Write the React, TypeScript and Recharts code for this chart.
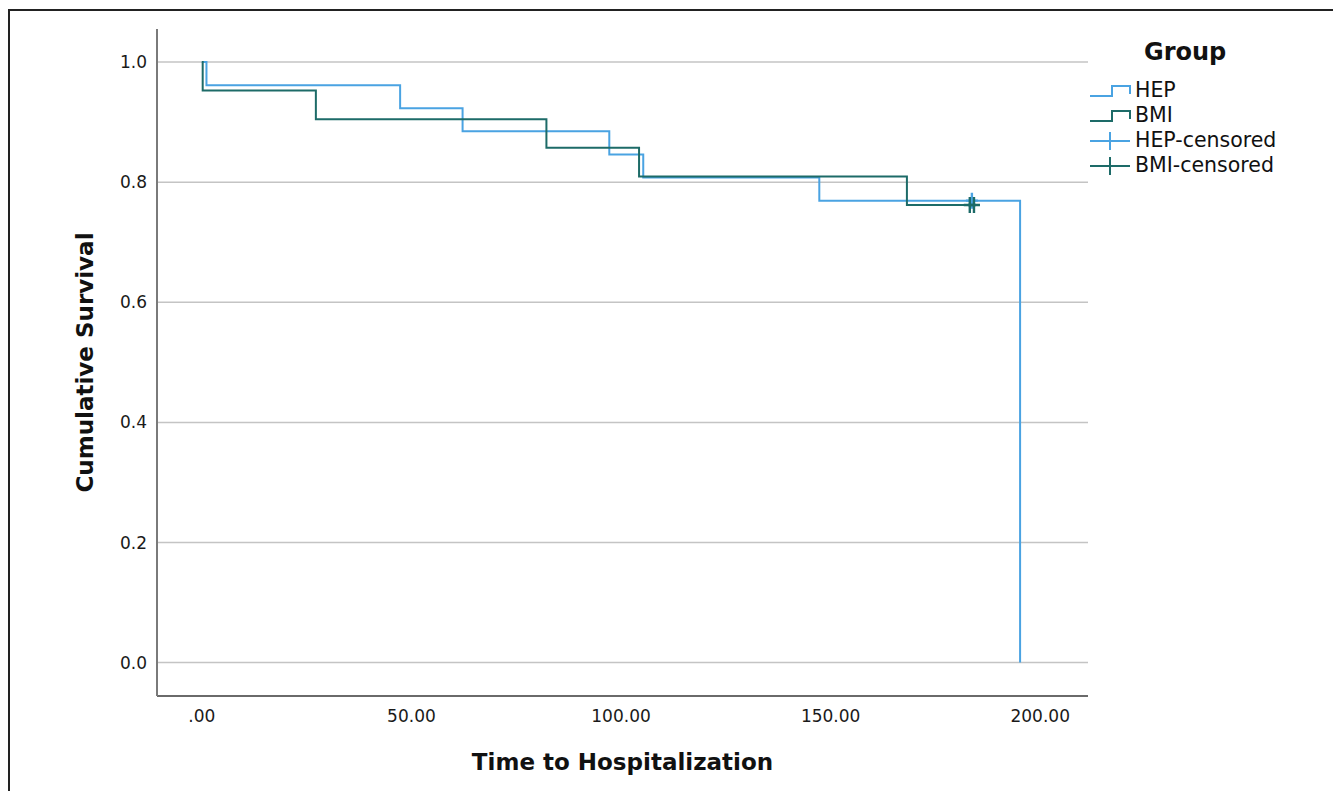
import React from "react";
import {
  ComposedChart,
  Line,
  Scatter,
  XAxis,
  YAxis,
  ReferenceLine,
} from "recharts";

// Kaplan-Meier steps (t = time, s = cumulative survival)
const hepSteps = [
  { t: 0, s: 1.0 },
  { t: 1.1, s: 0.9615 },
  { t: 47.3, s: 0.9231 },
  { t: 62.2, s: 0.8846 },
  { t: 97.2, s: 0.8462 },
  { t: 105.3, s: 0.8077 },
  { t: 147.3, s: 0.7692 },
  { t: 195.2, s: 0.0 },
];

const bmiSteps = [
  { t: 0, s: 1.0 },
  { t: 0.2, s: 0.9524 },
  { t: 27.2, s: 0.9048 },
  { t: 82.2, s: 0.8571 },
  { t: 104.3, s: 0.8095 },
  { t: 168.2, s: 0.7619 },
  { t: 184.5, s: 0.7619 },
];

const hepCensored = [{ t: 183.7, s: 0.7692 }];
const bmiCensored = [
  { t: 183.2, s: 0.7619 },
  { t: 184.2, s: 0.7619 },
];

const xTicks = [0, 50, 100, 150, 200];
const yTicks = [0, 0.2, 0.4, 0.6, 0.8, 1.0];

const HEP_COLOR = "#4aa3e2";
const BMI_COLOR = "#1d6b68";
const FONT = "'DejaVu Sans', sans-serif";

const formatX = (v: number) => (v === 0 ? ".00" : v.toFixed(2));

const censorMark = (color: string) => (props: any) => {
  const { cx, cy } = props;
  if (cx == null || cy == null) return <g />;
  return (
    <path
      d={`M${cx - 6},${cy} H${cx + 6} M${cx},${cy - 8} V${cy + 8}`}
      stroke={color}
      strokeWidth={2.4}
      fill="none"
    />
  );
};

const legendItems = [
  { name: "HEP", color: HEP_COLOR, kind: "step" },
  { name: "BMI", color: BMI_COLOR, kind: "step" },
  { name: "HEP-censored", color: HEP_COLOR, kind: "cross" },
  { name: "BMI-censored", color: BMI_COLOR, kind: "cross" },
];

const GroupLegend = () => (
  <div
    style={{
      position: "absolute",
      left: 1088,
      top: 36,
      fontFamily: FONT,
      color: "#111",
    }}
  >
    <div
      style={{
        fontSize: 24,
        fontWeight: "bold",
        marginLeft: 56,
        lineHeight: "32px",
        marginBottom: 10,
      }}
    >
      Group
    </div>
    {legendItems.map((it) => (
      <div
        key={it.name}
        style={{ display: "flex", alignItems: "center", height: 25 }}
      >
        <svg width={44} height={20} style={{ marginRight: 3 }}>
          {it.kind === "step" ? (
            <path
              d="M2,15 H24 V5 H42 V13"
              stroke={it.color}
              strokeWidth={2}
              fill="none"
            />
          ) : (
            <path
              d="M2,10 H42 M22,1 V19"
              stroke={it.color}
              strokeWidth={2}
              fill="none"
            />
          )}
        </svg>
        <span style={{ fontSize: 20.5, lineHeight: "25px" }}>{it.name}</span>
      </div>
    ))}
  </div>
);

export default function App() {
  return (
    <div
      style={{
        position: "absolute",
        left: 0,
        top: 0,
        width: 1333,
        height: 791,
        background: "#fff",
        overflow: "hidden",
      }}
    >
      <div
        style={{
          position: "absolute",
          left: 8,
          top: 9,
          width: 1333,
          height: 791,
          borderTop: "2px solid #222",
          borderLeft: "2px solid #222",
        }}
      />
      <ComposedChart
        width={1333}
        height={791}
        margin={{ top: 29, right: 245, bottom: 0, left: 0 }}
        style={{ position: "absolute", left: 0, top: 0, fontFamily: FONT }}
      >
        <XAxis
          type="number"
          dataKey="t"
          domain={[-10.7, 211.4]}
          ticks={xTicks}
          tickFormatter={formatX}
          allowDataOverflow
          height={95}
          tickLine={false}
          tickSize={12}
          tickMargin={2}
          axisLine={{ stroke: "#6a6a6a", strokeWidth: 2 }}
          tick={{ fill: "#1a1a1a", fontSize: 17 }}
          label={{
            value: "Time to Hospitalization",
            position: "insideBottom",
            offset: 21,
            style: { fontSize: 23, fontWeight: "bold", fill: "#111" },
          }}
        />
        <YAxis
          type="number"
          dataKey="s"
          domain={[-0.0556, 1.055]}
          ticks={yTicks}
          tickFormatter={(v: number) => v.toFixed(1)}
          allowDataOverflow
          width={157}
          tickLine={false}
          tickSize={8}
          tickMargin={2}
          axisLine={{ stroke: "#7a7a7a", strokeWidth: 2 }}
          tick={{ fill: "#1a1a1a", fontSize: 17 }}
          label={{
            value: "Cumulative Survival",
            angle: -90,
            position: "insideLeft",
            offset: 85,
            style: {
              fontSize: 23,
              fontWeight: "bold",
              fill: "#111",
              textAnchor: "middle",
            },
          }}
        />
        {yTicks.map((v) => (
          <ReferenceLine
            key={v}
            y={v}
            stroke="#c4c4c4"
            strokeWidth={1.5}
            ifOverflow="extendDomain"
          />
        ))}
        <Line
          data={hepSteps}
          dataKey="s"
          type="stepAfter"
          stroke={HEP_COLOR}
          strokeWidth={2}
          dot={false}
          activeDot={false}
          isAnimationActive={false}
        />
        <Line
          data={bmiSteps}
          dataKey="s"
          type="stepAfter"
          stroke={BMI_COLOR}
          strokeWidth={2}
          dot={false}
          activeDot={false}
          isAnimationActive={false}
        />
        <Scatter
          data={hepCensored}
          dataKey="s"
          shape={censorMark(HEP_COLOR)}
          isAnimationActive={false}
        />
        <Scatter
          data={bmiCensored}
          dataKey="s"
          shape={censorMark(BMI_COLOR)}
          isAnimationActive={false}
        />
      </ComposedChart>
      <GroupLegend />
    </div>
  );
}
